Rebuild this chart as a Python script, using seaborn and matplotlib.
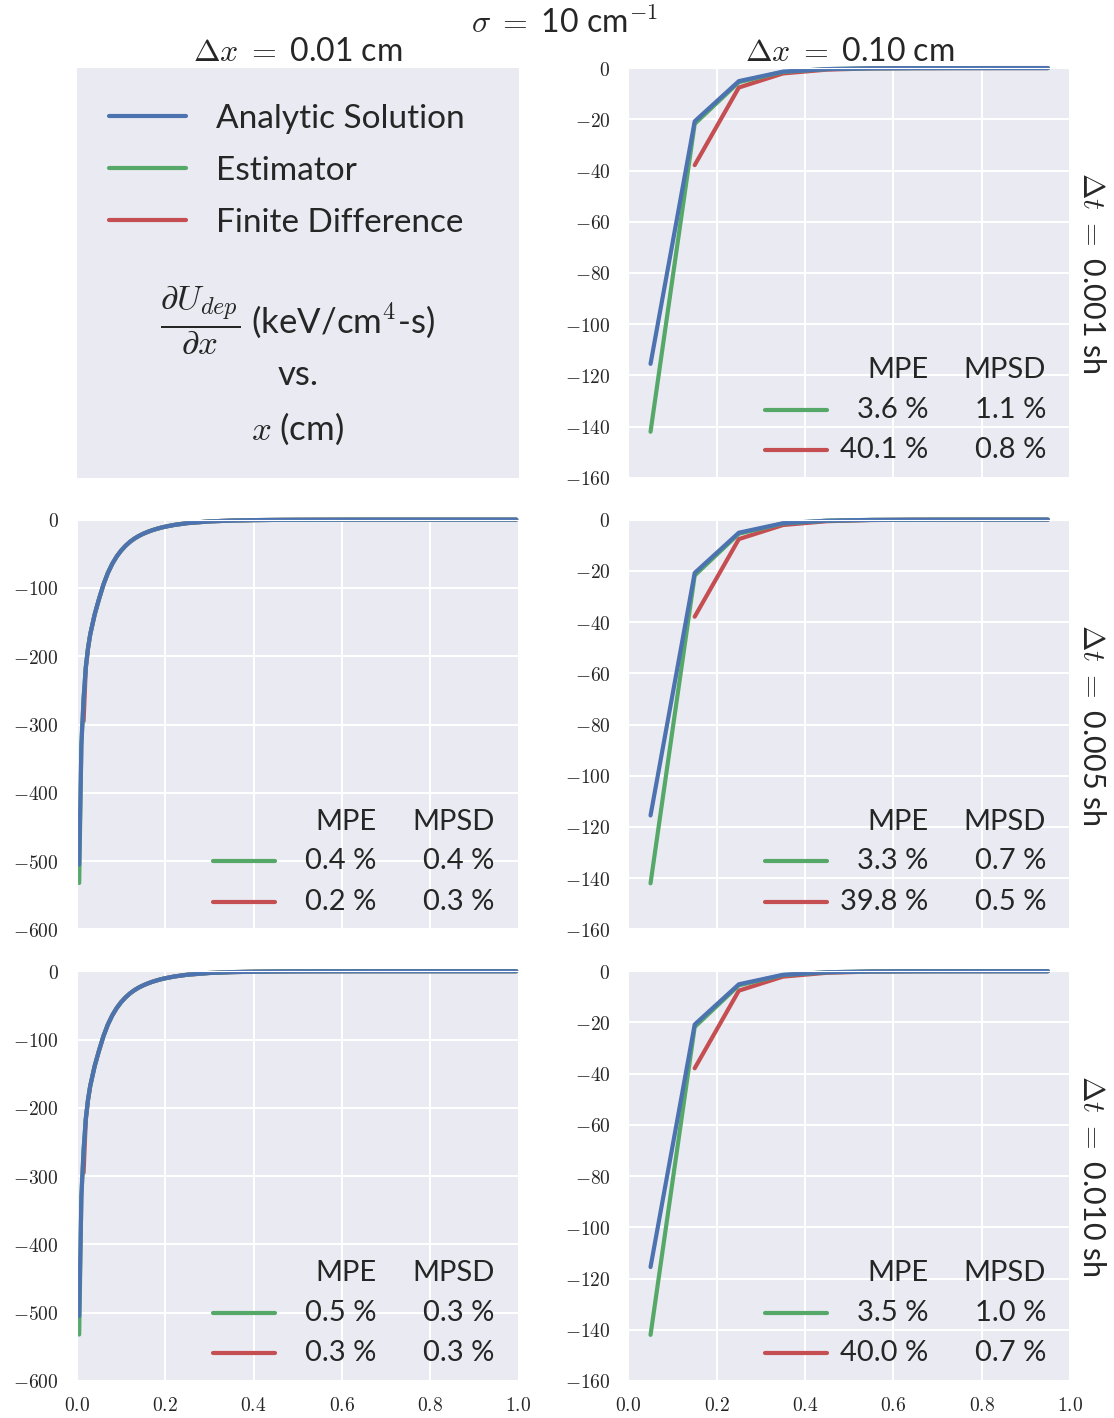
import matplotlib
matplotlib.use('Agg')
import numpy as np
import matplotlib.pyplot as plt
import seaborn as sns
from matplotlib.lines import Line2D
from matplotlib.ticker import FuncFormatter, MultipleLocator

# ---- data ----
# fine grid (dx = 0.01 cm)
x_fine = [0.005, 0.01, 0.015, 0.02, 0.025, 0.03, 0.04, 0.05, 0.06, 0.07, 0.08,
          0.09, 0.10, 0.11, 0.12, 0.13, 0.14, 0.15, 0.16, 0.17, 0.18, 0.19,
          0.20, 0.22, 0.25, 0.30, 0.35, 0.40, 0.45, 0.50, 0.60, 0.70, 0.80,
          0.90, 0.995]
analytic_fine = [-505, -330, -262, -216, -188, -168, -139, -116, -95, -78, -64.6,
                 -53.9, -45.3, -38.3, -32.5, -27.8, -23.9, -20.7, -18.0, -15.6, -13.6, -11.8,
                 -10.3, -7.8, -5.1, -2.6, -1.35, -0.7, -0.37, -0.19, -0.05, -0.01, 0,
                 0, 0]
estimator_fine = [-532, -329, -261, -215, -188, -168, -139, -116, -95, -78, -64.6,
                  -53.9, -45.3, -38.3, -32.5, -27.8, -23.9, -20.7, -18.0, -15.6, -13.6, -11.8,
                  -10.3, -7.8, -5.1, -2.6, -1.35, -0.7, -0.37, -0.19, -0.05, -0.01, 0,
                  0, 0]
fd_fine = [np.nan, np.nan, -295, -218, -189, -168, -139, -116, -95, -78, -64.6,
           -53.9, -45.3, -38.3, -32.5, -27.8, -23.9, -20.7, -18.0, -15.6, -13.6, -11.8,
           -10.3, -7.8, -5.1, -2.6, -1.35, -0.7, -0.37, -0.19, -0.05, -0.01, 0,
           0, 0]

# coarse grid (dx = 0.10 cm)
x_coarse = [0.05, 0.15, 0.25, 0.35, 0.45, 0.55, 0.65, 0.75, 0.85, 0.95]
analytic_coarse = [-115.5, -20.8, -5.1, -1.4, -0.4, -0.1, -0.03, -0.01, 0, 0]
estimator_coarse = [-142, -21.8, -5.5, -1.5, -0.4, -0.1, -0.03, -0.01, 0, 0]
fd_coarse = [np.nan, -37.9, -7.6, -2.1, -0.6, -0.15, -0.04, -0.01, 0, 0]

dt_labels = ['0.001', '0.005', '0.010']
dx_labels = ['0.01', '0.10']

# error tables: [row][col] -> (est MPE, est MPSD, fd MPE, fd MPSD); None = legend panel
err_tables = [
    [None, ('3.6', '1.1', '40.1', '0.8')],
    [('0.4', '0.4', '0.2', '0.3'), ('3.3', '0.7', '39.8', '0.5')],
    [('0.5', '0.3', '0.3', '0.3'), ('3.5', '1.0', '40.0', '0.7')],
]

BLUE, GREEN, RED = '#4C72B0', '#55A868', '#C44E52'

sns.set_style('darkgrid')
plt.rcParams['font.family'] = ['Lato', 'DejaVu Sans']
plt.rcParams['mathtext.fontset'] = 'cm'
plt.rcParams['text.color'] = '.15'

fig, axes = plt.subplots(3, 2, figsize=(11.14, 14.18), dpi=100, sharex=True)
fig.subplots_adjust(left=0.0691, right=0.9605, top=0.952, bottom=0.0261,
                    wspace=0.249, hspace=0.102)

LW = 3.0
TXT = 21

for r in range(3):
    for c in range(2):
        ax = axes[r, c]
        if r == 0 and c == 0:
            continue
        if c == 0:
            xs, an, es, fd = x_fine, analytic_fine, estimator_fine, fd_fine
            ax.set_ylim(-600, 0)
            ax.yaxis.set_major_locator(MultipleLocator(100))
        else:
            xs, an, es, fd = x_coarse, analytic_coarse, estimator_coarse, fd_coarse
            ax.set_ylim(-160, 0)
            ax.yaxis.set_major_locator(MultipleLocator(20))
        for ys, col in [(fd, RED), (es, GREEN), (an, BLUE)]:
            sns.lineplot(x=xs, y=ys, ax=ax, color=col, lw=LW,
                         solid_capstyle='round', clip_on=False)
        ax.set_xlim(0, 1)
        ax.xaxis.set_major_locator(MultipleLocator(0.2))
        ax.yaxis.set_major_formatter(FuncFormatter(lambda v, p: f'${v:g}$'))
        ax.xaxis.set_major_formatter(FuncFormatter(lambda v, p: f'${v:.1f}$'))
        ax.tick_params(labelsize=14, length=2, width=1, color='.15')
        ax.tick_params(axis='y', pad=11)
        ax.tick_params(axis='x', pad=9)
        ax.grid(True, color='white', lw=1.5)

        # error table
        t = err_tables[r][c]
        tr = ax.transAxes
        ax.add_line(Line2D([0.309, 0.449], [0.166, 0.166], transform=tr,
                           color=GREEN, lw=LW, solid_capstyle='round'))
        ax.add_line(Line2D([0.309, 0.449], [0.068, 0.068], transform=tr,
                           color=RED, lw=LW, solid_capstyle='round'))
        ax.text(0.679, 0.263, 'MPE', transform=tr, ha='right', va='center', fontsize=TXT)
        ax.text(0.946, 0.263, 'MPSD', transform=tr, ha='right', va='center', fontsize=TXT)
        ax.text(0.679, 0.166, f'{t[0]} %', transform=tr, ha='right', va='center', fontsize=TXT)
        ax.text(0.946, 0.166, f'{t[1]} %', transform=tr, ha='right', va='center', fontsize=TXT)
        ax.text(0.679, 0.068, f'{t[2]} %', transform=tr, ha='right', va='center', fontsize=TXT)
        ax.text(0.946, 0.068, f'{t[3]} %', transform=tr, ha='right', va='center', fontsize=TXT)

# legend panel
lax = axes[0, 0]
lax.grid(False)
lax.tick_params(left=False, bottom=False, labelleft=False, labelbottom=False)
for s in lax.spines.values():
    s.set_visible(False)
handles = [Line2D([], [], color=BLUE, lw=LW),
           Line2D([], [], color=GREEN, lw=LW),
           Line2D([], [], color=RED, lw=LW)]
lax.legend(handles, ['Analytic Solution', 'Estimator', 'Finite Difference'],
           loc='upper left', frameon=False, fontsize=24, handlelength=2.3,
           handletextpad=0.9, labelspacing=0.66, borderaxespad=0.3,
           bbox_to_anchor=(0.02, 0.97))
lax.text(0.5, 0.385, r'$\dfrac{\partial U_{dep}}{\partial x}$ (keV/cm$^4$-s)',
         transform=lax.transAxes, ha='center', va='center', fontsize=25)
lax.text(0.5, 0.25, 'vs.', transform=lax.transAxes, ha='center', va='center', fontsize=25)
lax.text(0.5, 0.12, r'$x$ (cm)', transform=lax.transAxes, ha='center', va='center', fontsize=25)

# column / row titles
for c, lab in enumerate(dx_labels):
    ax = axes[0, c]
    ax.set_title(r'$\Delta x \;=\;$' + lab + ' cm', fontsize=23, pad=5)
for r, lab in enumerate(dt_labels):
    ax = axes[r, 1]
    ax.text(1.05, 0.5, r'$\Delta t \;=\;$' + lab + ' sh', transform=ax.transAxes,
            rotation=270, ha='center', va='center', fontsize=22)
fig.text(0.507, 0.984, r'$\sigma \;=\;$10 cm$^{-1}$', ha='center', va='center', fontsize=23)

fig.savefig('out.png', dpi=100)
